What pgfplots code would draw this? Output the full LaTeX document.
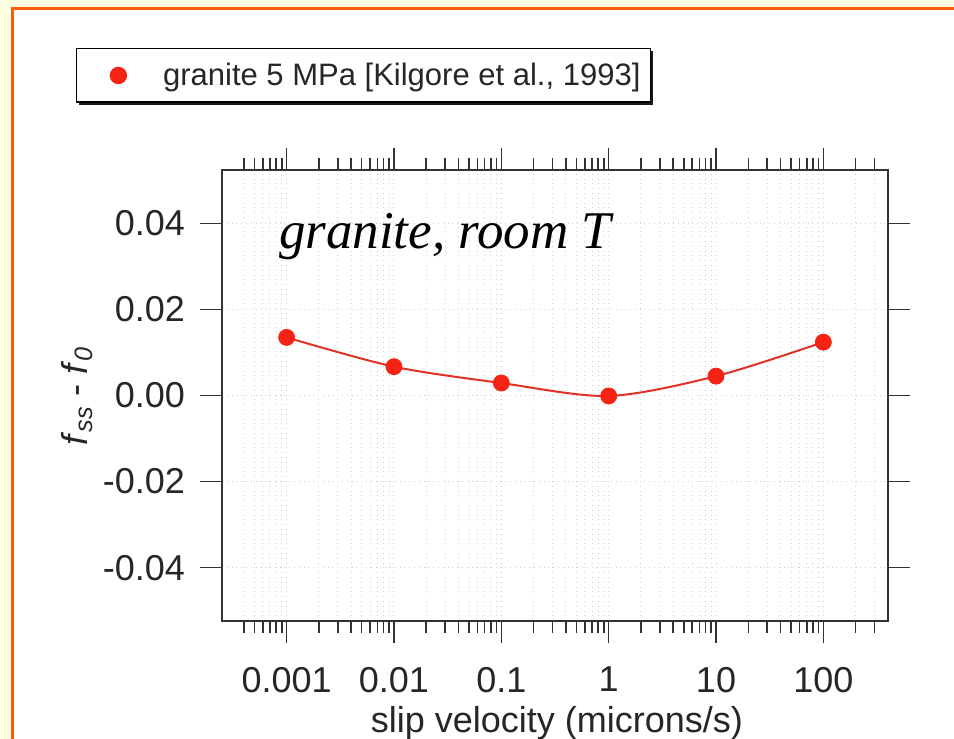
\documentclass[border=0pt]{standalone}
\usepackage{fontspec}
\setmainfont{Liberation Sans}
\newfontfamily\timesfont{Liberation Serif}
\usepackage{pgfplots}
\pgfplotsset{compat=1.18}
\usetikzlibrary{shadows}
\definecolor{bgyellow}{RGB}{255,255,225}
\definecolor{frameorange}{RGB}{255,90,10}
\definecolor{ptred}{RGB}{245,35,20}
\definecolor{linered}{RGB}{225,50,40}
\definecolor{gridgray}{RGB}{205,210,224}
\definecolor{axisgray}{RGB}{50,50,50}
\begin{document}
\begin{tikzpicture}
\useasboundingbox (0,0) rectangle (477pt,-369.5pt);
\clip (0,0) rectangle (477pt,-369.5pt);
\fill[bgyellow] (0,0) rectangle (477pt,-369.5pt);
\filldraw[fill=white, draw=frameorange, line width=1.5pt] (6pt,-4pt) rectangle (500pt,-400pt);
\begin{axis}[
  at={(111pt,-310.5pt)}, anchor=south west,
  scale only axis, width=333pt, height=225.5pt,
  xmode=log, xmin=2.5e-4, xmax=400,
  ymin=-0.0524, ymax=0.0524,
  xtick={0.001,0.01,0.1,1,10,100},
  xticklabels={0.001,0.01,0.1,1,10,100},
  minor xtick={4e-4,5e-4,6e-4,7e-4,8e-4,9e-4,
    0.002,0.003,0.004,0.005,0.006,0.007,0.008,0.009,
    0.02,0.03,0.04,0.05,0.06,0.07,0.08,0.09,
    0.2,0.3,0.4,0.5,0.6,0.7,0.8,0.9,
    2,3,4,5,6,7,8,9,
    20,30,40,50,60,70,80,90,
    200,300},
  ytick={-0.04,-0.02,0,0.02,0.04},
  yticklabels={-0.04,-0.02,0.00,0.02,0.04},
  scaled y ticks=false,
  tick align=outside,
  major tick length=11pt, minor tick length=6pt,
  tick style={axisgray, line width=0.8pt},
  axis line style={axisgray, line width=1pt},
  xmajorgrids, xminorgrids, ymajorgrids,
  major grid style={gridgray, dotted, line width=0.5pt},
  minor grid style={gridgray, dotted, line width=0.5pt},
  tick label style={font=\fontsize{18}{20}\selectfont, text=black!85},
  xticklabel style={yshift=-8.5pt},
  yticklabel style={xshift=-4pt},
  xlabel={slip velocity (microns/s)},
  ylabel={\textit{f}\textsubscript{\textit{ss}} - \textit{f}\textsubscript{\textit{0}}},
  every axis y label/.style={at={(axis description cs:-0.2177,0.499)}, rotate=90, anchor=center, font=\fontsize{18}{20}\selectfont, text=black!85},
  every axis x label/.style={at={(axis description cs:0.503,-0.248)}, anchor=base, font=\fontsize{18}{20}\selectfont, text=black!85},
  legend style={at={(axis description cs:-0.2192,1.2705)}, anchor=north west,
    draw=black, line width=0.7pt, fill=white,
    font=\fontsize{15.5}{18}\selectfont, text=black!85,
    inner xsep=3pt, inner ysep=5pt,
    drop shadow={shadow xshift=1.2pt, shadow yshift=-1.2pt, fill=black, opacity=0.9}},
  legend image code/.code={\path (0pt,0pt) (37.5pt,0pt); \draw[#1] plot coordinates {(17.5pt,0pt)};},
]
\addplot[linered, line width=1pt, smooth, forget plot] table {
x y
0.001 0.0135
0.01 0.0067
0.1 0.0029
1 -0.0001
10 0.0045
100 0.0124
};
\addplot[only marks, mark=*, mark size=4pt, color=ptred] table {
x y
0.001 0.0135
0.01 0.0067
0.1 0.0029
1 -0.0001
10 0.0045
100 0.0124
};
\addlegendentry{granite 5 MPa [Kilgore et al., 1993]}
\node[anchor=base west, font={\timesfont\itshape\fontsize{26.5}{30}\selectfont}] at (axis description cs:0.075,0.827) {granite, room T};
\end{axis}
\end{tikzpicture}
\end{document}
